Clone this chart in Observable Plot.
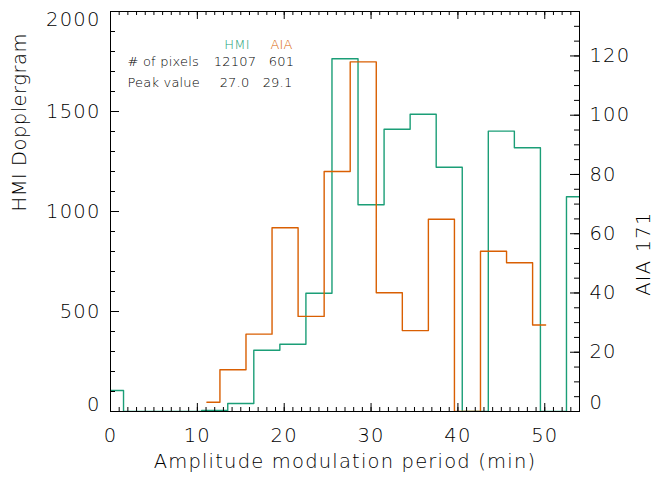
<!DOCTYPE html>
<html><head><meta charset="utf-8">
<script src="https://cdn.jsdelivr.net/npm/d3@7"></script>
<script src="https://cdn.jsdelivr.net/npm/@observablehq/plot@0.6"></script>
<style>
html,body{margin:0;padding:0;background:#fff;}
#chart svg{display:block;}
</style>
</head><body><div id="chart"></div>
<script>
// ---- data ----
const hmiPeriods = [0, 3, 6, 9, 12, 15, 18, 21, 24, 27, 30, 33, 36, 39, 42, 45, 48, 51, 54];
const hmiCounts  = [105, 0, 0, 0, 5, 40, 306, 336, 591, 1764, 1034, 1411, 1486, 1221, 0, 1402, 1319, 0, 1074];
const aiaPeriods = [11.1, 14.1, 17.1, 20.1, 23.1, 26.1, 29.1, 32.1, 35.1, 38.1, 41.1, 44.1, 47.1, 50.1];
const aiaCounts  = [3.1, 14.1, 26.1, 62, 32.1, 81, 118, 40.1, 27.3, 64.9, 0, 54.1, 50.2, 29.2];

const xMajorTicks = [0, 10, 20, 30, 40, 50];
const xMinorTicks = d3.range(0, 55, 1);
const hmiTicks = [0, 500, 1000, 1500, 2000];
const hmiMinorTicks = d3.range(0, 2001, 100);
const aiaTicks = [0, 20, 40, 60, 80, 100, 120];
const aiaMinorTicks = d3.range(0, 136, 5);
const aiaMax = 135;

const legendSeries = ["HMI", "AIA"];
const legendRows = ["# of pixels", "Peak value"];
const legendPixels = ["12107", "601"];
const legendPeaks = ["27.0", "29.1"];

const xTitle = "Amplitude modulation period (min)";
const yLeftTitle = "HMI Dopplergram";
const yRightTitle = "AIA 171";

// ---- layout ----
const W = 654, H = 478, mL = 110, mR = 75, mT = 11, mB = 67;
const fw = W - mL - mR, fh = H - mT - mB;
const k = 2000 / aiaMax;
const green = "#1b9e77", orange = "#d95f02";
const FONT = "'DejaVu Sans', sans-serif";
const fmt = d => String(d);

const hmi = hmiPeriods.map((p, i) => ({p, c: hmiCounts[i]}));
const aia = aiaPeriods.map((p, i) => ({p, c: aiaCounts[i]}));

const lg = {frameAnchor: "top-left", fontSize: 13, text: d => d};

const plot = Plot.plot({
  width: W, height: H,
  marginLeft: mL, marginRight: mR, marginTop: mT, marginBottom: mB,
  x: {domain: [0, 54], label: null},
  y: {domain: [0, 2000], label: null},
  style: {fontFamily: FONT, fontSize: "19.5px", color: "#000", background: "#fff", fontWeight: 300},
  marks: [
    Plot.line(hmi, {x: "p", y: "c", curve: "step", stroke: green, strokeWidth: 1.4, clip: true}),
    Plot.line(aia, {x: "p", y: d => d.c * k, curve: "step", stroke: orange, strokeWidth: 1.4, clip: true}),
    // inward ticks
    Plot.tickX(xMinorTicks, {x: d => d, insetTop: fh - 4, stroke: "#000"}),
    Plot.tickX(xMajorTicks, {x: d => d, insetTop: fh - 8, stroke: "#000"}),
    Plot.tickX(xMinorTicks, {x: d => d, insetBottom: fh - 4, stroke: "#000"}),
    Plot.tickX(xMajorTicks, {x: d => d, insetBottom: fh - 8, stroke: "#000"}),
    Plot.tickY(hmiMinorTicks, {y: d => d, insetRight: fw - 5, stroke: "#000"}),
    Plot.tickY(hmiTicks, {y: d => d, insetRight: fw - 9, stroke: "#000"}),
    Plot.tickY(aiaMinorTicks.map(v => v * k), {y: d => d, insetLeft: fw - 5, stroke: "#000"}),
    Plot.tickY(aiaTicks.map(v => v * k), {y: d => d, insetLeft: fw - 9, stroke: "#000"}),
    Plot.frame({stroke: "#000"}),
    // tick labels
    Plot.axisX(xMajorTicks, {tickSize: 0, tickPadding: 17, label: null, tickFormat: fmt}),
    Plot.axisY(hmiTicks.slice(1, -1), {tickSize: 0, tickPadding: 10, label: null, tickFormat: fmt}),
    Plot.axisY(hmiTicks.slice(0, 1), {tickSize: 0, tickPadding: 10, dy: -7, label: null, tickFormat: fmt}),
    Plot.axisY(hmiTicks.slice(-1), {tickSize: 0, tickPadding: 10, dy: 8, label: null, tickFormat: fmt}),
    Plot.axisY(aiaTicks.slice(1).map(v => v * k), {anchor: "right", tickSize: 0, tickPadding: 10, label: null, tickFormat: d => Math.round(d / k)}),
    Plot.axisY(aiaTicks.slice(0, 1).map(v => v * k), {anchor: "right", tickSize: 0, tickPadding: 10, dy: -9, label: null, tickFormat: d => Math.round(d / k)}),
    // axis titles
    Plot.text([xTitle], {frameAnchor: "bottom", dy: 56, text: d => d}),
    Plot.text([yLeftTitle], {frameAnchor: "left", dx: -91, rotate: -90, text: d => d}),
    Plot.text([yRightTitle], {frameAnchor: "right", dx: 64, rotate: -90, text: d => d}),
    // legend / annotation table
    Plot.text(legendSeries.slice(0, 1), {...lg, dx: 126.5, dy: 28, fill: green, textAnchor: "middle"}),
    Plot.text(legendSeries.slice(1), {...lg, dx: 171, dy: 28, fill: orange, textAnchor: "middle"}),
    Plot.text(legendRows.slice(0, 1), {...lg, dx: 17, dy: 45, textAnchor: "start"}),
    Plot.text(legendRows.slice(1), {...lg, dx: 17, dy: 66, textAnchor: "start"}),
    Plot.text(legendPixels.slice(0, 1), {...lg, dx: 124.5, dy: 45, textAnchor: "middle"}),
    Plot.text(legendPixels.slice(1), {...lg, dx: 171, dy: 45, textAnchor: "middle"}),
    Plot.text(legendPeaks.slice(0, 1), {...lg, dx: 124, dy: 66, textAnchor: "middle"}),
    Plot.text(legendPeaks.slice(1), {...lg, dx: 167, dy: 66, textAnchor: "middle"})
  ]
});

const legendTexts = new Set([...legendSeries, ...legendRows, ...legendPixels, ...legendPeaks]);
d3.select(plot).selectAll("text").each(function () {
  const t = this.textContent;
  let ls = "1.2px";
  if (legendTexts.has(t)) ls = "0.2px";
  else if (t === yLeftTitle) ls = "0.5px";
  d3.select(this).style("letter-spacing", ls);
});
document.getElementById("chart").appendChild(plot);
</script>
</body></html>
